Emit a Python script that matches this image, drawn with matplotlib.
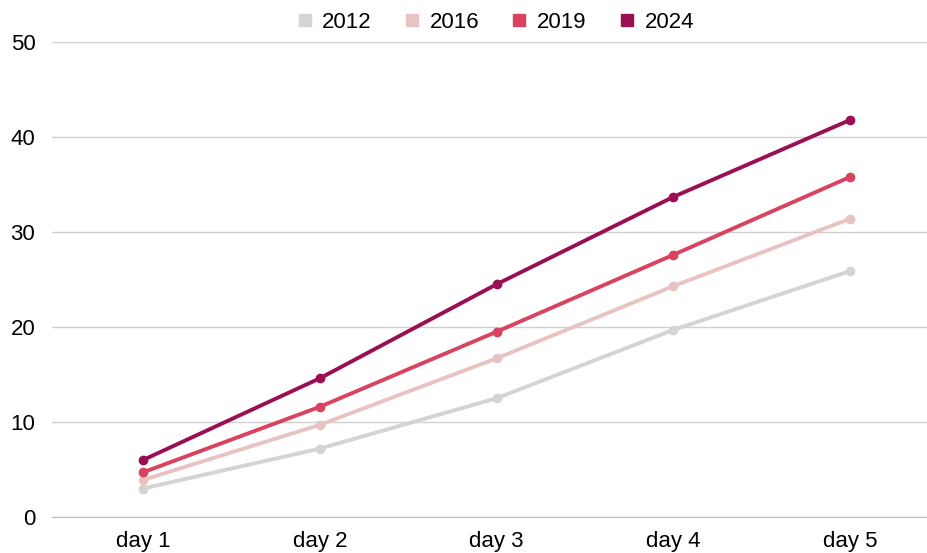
import matplotlib.pyplot as plt
from matplotlib.lines import Line2D

days = ["day 1", "day 2", "day 3", "day 4", "day 5"]
years = ["2012", "2016", "2019", "2024"]
v2012 = [3.0, 7.2, 12.5, 19.7, 25.9]
v2016 = [3.9, 9.7, 16.7, 24.3, 31.4]
v2019 = [4.7, 11.6, 19.5, 27.6, 35.8]
v2024 = [6.0, 14.6, 24.5, 33.7, 41.8]
colors = ["#d4d4d4", "#e8c3c4", "#d9435f", "#9a0f53"]

plt.rcParams['font.family'] = ['Liberation Sans', 'DejaVu Sans']

fig = plt.figure(figsize=(9.28, 5.53), dpi=100)
ax = fig.add_axes([52 / 928, 36 / 553, 876 / 928, 475 / 553])

x = list(range(len(days)))
for vals, c in zip([v2012, v2016, v2019, v2024], colors):
    ax.plot(x, vals, color=c, lw=2.8, marker="o", ms=6, zorder=3)

ax.set_xlim(-0.515, 4.44)
ax.set_ylim(0, 50)
ax.set_yticks([0, 10, 20, 30, 40, 50])
ax.set_xticks(x)
ax.set_xticklabels(days)
ax.grid(axis="y", color="#d0d0d0", lw=1)
ax.set_axisbelow(True)
for s in ["top", "right", "left"]:
    ax.spines[s].set_visible(False)
ax.spines["bottom"].set_color("#bdbdbd")
ax.tick_params(axis="both", length=0, labelsize=16, colors="black")
ax.tick_params(axis="y", pad=12)
ax.tick_params(axis="x", pad=10)

handles = [Line2D([], [], ls="none", marker="s", ms=8, color=c) for c in colors]
fig.legend(handles, years, loc="upper center", bbox_to_anchor=(0.532, 1.015), ncol=4,
           frameon=False, fontsize=16, handletextpad=0.3, columnspacing=1.3,
           handlelength=1.0)

fig.savefig("out.png", dpi=100)
